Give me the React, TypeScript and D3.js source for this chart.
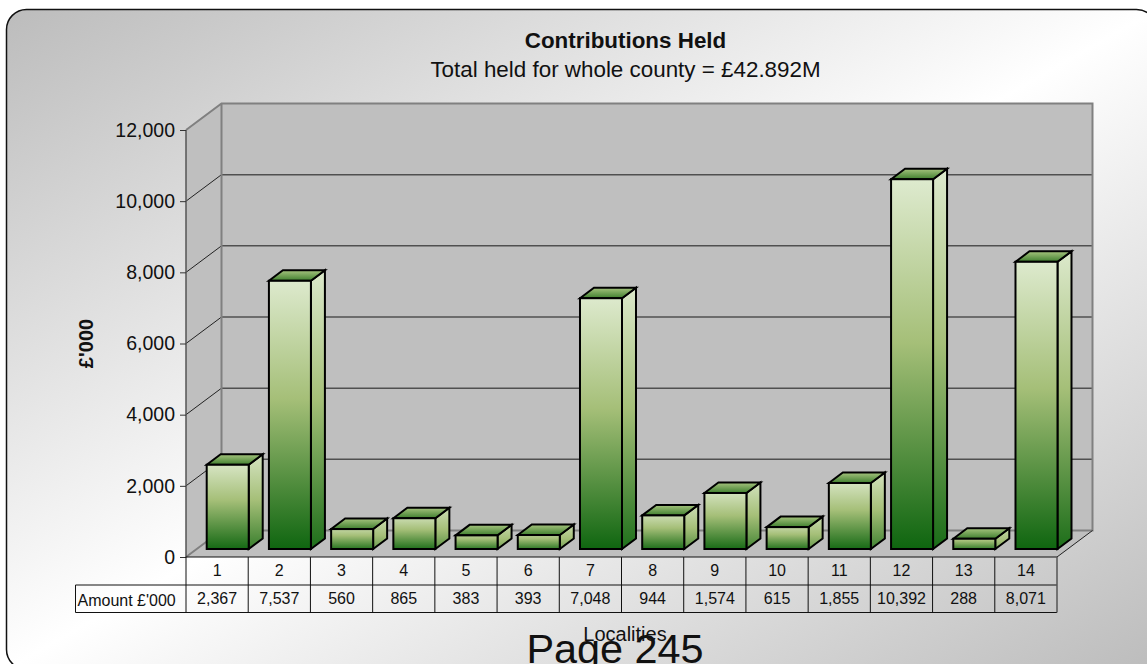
import React, { useEffect, useRef } from 'react';
import * as d3 from 'd3';

const localities = ['1', '2', '3', '4', '5', '6', '7', '8', '9', '10', '11', '12', '13', '14'];
const amounts = [2367, 7537, 560, 865, 383, 393, 7048, 944, 1574, 615, 1855, 10392, 288, 8071];
const yTicks = [0, 2000, 4000, 6000, 8000, 10000, 12000];
const titleText = 'Contributions Held';
const subtitleText = 'Total held for whole county = £42.892M';
const rowLabel = "Amount £'000";
const yLabel = "£'000";
const xLabel = 'Localities';
const pageLabel = 'Page 245';

const FONT = '"Liberation Sans", Arial, sans-serif';

const App = () => {
  const svgRef = useRef<SVGSVGElement>(null);

  useEffect(() => {
    const svg = d3.select(svgRef.current);
    svg.selectAll('*').remove();

    const left = 186, right = 1057, bottom = 557, top = 130;
    const depthX = 35.5, depthY = 26.5;
    const rowH = 28;

    const x = d3.scaleBand().domain(localities).range([left, right]).paddingInner(0).paddingOuter(0);
    const y = d3.scaleLinear().domain([0, 12000]).range([bottom, top]);

    const barW = 42, barDX = 14, barDY = 10.5, shiftX = 10.6, shiftY = 8;

    const defs = svg.append('defs');

    const bg = defs.append('linearGradient').attr('id', 'bg')
      .attr('x1', 0).attr('y1', 0).attr('x2', 1).attr('y2', 1);
    bg.append('stop').attr('offset', 0).attr('stop-color', '#bcbcbc');
    bg.append('stop').attr('offset', 0.5).attr('stop-color', '#ffffff');
    bg.append('stop').attr('offset', 1).attr('stop-color', '#bcbcbc');

    const topFace = defs.append('linearGradient').attr('id', 'topFace')
      .attr('x1', 0).attr('y1', 0).attr('x2', 0).attr('y2', 1);
    topFace.append('stop').attr('offset', 0).attr('stop-color', '#a6c47e');
    topFace.append('stop').attr('offset', 1).attr('stop-color', '#3f7f2e');

    const barStops = (g: any) => {
      g.append('stop').attr('offset', 0).attr('stop-color', '#e0ecd2');
      g.append('stop').attr('offset', 0.45).attr('stop-color', '#a5bf78');
      g.append('stop').attr('offset', 1).attr('stop-color', '#0c640e');
    };

    amounts.forEach((v, i) => {
      const front = defs.append('linearGradient').attr('id', `front${i}`)
        .attr('gradientUnits', 'userSpaceOnUse')
        .attr('x1', 0).attr('x2', 0)
        .attr('y1', y(v) - shiftY - 7)
        .attr('y2', bottom - shiftY + 3);
      barStops(front);
      const side = defs.append('linearGradient').attr('id', `side${i}`)
        .attr('gradientUnits', 'userSpaceOnUse')
        .attr('x1', 0).attr('x2', 0)
        .attr('y1', y(v) - shiftY - 2 * barDY)
        .attr('y2', bottom + 12);
      barStops(side);
    });

    // panel
    svg.append('rect')
      .attr('x', 6.5).attr('y', 9.5)
      .attr('width', 1150).attr('height', 660)
      .attr('rx', 20).attr('ry', 20)
      .attr('fill', 'url(#bg)')
      .attr('stroke', '#111').attr('stroke-width', 1.5);

    // walls and floor
    const wall = '#bfbfbf';
    const poly = (pts: number[][]) => pts.map(p => p.join(',')).join(' ');
    svg.append('polygon')
      .attr('points', poly([[left, bottom], [left + depthX, bottom - depthY], [right + depthX, bottom - depthY], [right, bottom]]))
      .attr('fill', wall);
    svg.append('polygon')
      .attr('points', poly([[left, top], [left + depthX, top - depthY], [left + depthX, bottom - depthY], [left, bottom]]))
      .attr('fill', wall);
    svg.append('rect')
      .attr('x', left + depthX).attr('y', top - depthY)
      .attr('width', right - left).attr('height', bottom - top)
      .attr('fill', wall);

    // gridlines
    const gridY = yTicks.filter(t => t > 0 && t < 12000);
    svg.selectAll('.grid').data(gridY).join('line')
      .attr('x1', left + depthX).attr('x2', right + depthX)
      .attr('y1', d => y(d) - depthY).attr('y2', d => y(d) - depthY)
      .attr('stroke', '#505050').attr('stroke-width', 1.5);
    svg.selectAll('.diag').data(gridY).join('line')
      .attr('x1', left).attr('x2', left + depthX)
      .attr('y1', d => y(d)).attr('y2', d => y(d) - depthY)
      .attr('stroke', '#222').attr('stroke-width', 1);

    // wall outline
    svg.append('path')
      .attr('d', `M${left},${top}L${left + depthX},${top - depthY}H${right + depthX}V${bottom - depthY}H${left + depthX}V${top - depthY}M${left + depthX},${bottom - depthY}L${left},${bottom}`)
      .attr('fill', 'none').attr('stroke', '#808080').attr('stroke-width', 2);
    svg.append('line')
      .attr('x1', right).attr('y1', bottom).attr('x2', right + depthX).attr('y2', bottom - depthY)
      .attr('stroke', '#222').attr('stroke-width', 1);
    svg.append('line')
      .attr('x1', left).attr('y1', top).attr('x2', left).attr('y2', bottom)
      .attr('stroke', '#555').attr('stroke-width', 1.5);

    // y axis
    const yAxis = svg.append('g')
      .attr('transform', `translate(${left},0)`)
      .call(d3.axisLeft(y).tickValues(yTicks).tickSize(6).tickPadding(5).tickFormat(d3.format(',')));
    yAxis.select('.domain').remove();
    yAxis.selectAll('.tick line').attr('stroke', '#333');
    yAxis.selectAll('.tick text')
      .attr('font-family', FONT).attr('font-size', 19.5).attr('fill', '#111');

    // bars
    const bars = svg.selectAll('.bar').data(amounts).join('g');
    const bx = (i: number) => x(localities[i])! + (x.bandwidth() - barW) / 2 + shiftX;
    const by0 = bottom - shiftY;
    const byT = (v: number) => y(v) - shiftY;

    bars.append('polygon')
      .attr('points', (d, i) => poly([
        [bx(i) + barW, by0], [bx(i) + barW + barDX, by0 - barDY],
        [bx(i) + barW + barDX, byT(d) - barDY], [bx(i) + barW, byT(d)],
      ]))
      .attr('fill', (d, i) => `url(#side${i})`);
    bars.append('polygon')
      .attr('points', (d, i) => poly([
        [bx(i), byT(d)], [bx(i) + barDX, byT(d) - barDY],
        [bx(i) + barW + barDX, byT(d) - barDY], [bx(i) + barW, byT(d)],
      ]))
      .attr('fill', 'url(#topFace)');
    bars.append('rect')
      .attr('x', (d, i) => bx(i)).attr('y', d => byT(d))
      .attr('width', barW).attr('height', d => by0 - byT(d))
      .attr('fill', (d, i) => `url(#front${i})`);
    bars.selectAll('*')
      .attr('stroke', '#000').attr('stroke-width', 2).attr('stroke-linejoin', 'miter');

    // data table
    const table = svg.append('g').attr('font-family', FONT).attr('font-size', 16).attr('fill', '#111');
    const rowLeft = 75.5;
    const tableBottom = bottom + 2 * rowH - 0.5;
    table.append('path')
      .attr('d', `M${left},${bottom}H${right}M${rowLeft},${bottom + rowH}H${right}M${rowLeft},${tableBottom}H${right}M${rowLeft},${bottom + rowH}V${tableBottom}`)
      .attr('fill', 'none').attr('stroke', '#111').attr('stroke-width', 1);
    table.selectAll('.sep').data(localities).join('line')
      .attr('x1', d => x(d)!).attr('x2', d => x(d)!)
      .attr('y1', bottom).attr('y2', tableBottom)
      .attr('stroke', '#111');
    table.append('line')
      .attr('x1', right).attr('x2', right).attr('y1', bottom).attr('y2', tableBottom)
      .attr('stroke', '#555').attr('stroke-width', 1.5);
    table.selectAll('.cat').data(localities).join('text')
      .attr('x', d => x(d)! + x.bandwidth() / 2).attr('y', bottom + 18.5)
      .attr('text-anchor', 'middle').text(d => d);
    table.selectAll('.val').data(amounts).join('text')
      .attr('x', (d, i) => x(localities[i])! + x.bandwidth() / 2).attr('y', bottom + 47)
      .attr('text-anchor', 'middle').text(d => d3.format(',')(d));
    table.append('text')
      .attr('x', rowLeft + 2).attr('y', bottom + 48.5).text(rowLabel);

    // titles
    svg.append('text')
      .attr('x', 625.5).attr('y', 48).attr('text-anchor', 'middle')
      .attr('font-family', FONT).attr('font-size', 22.4).attr('font-weight', 'bold').attr('fill', '#111')
      .text(titleText);
    svg.append('text')
      .attr('x', 625.5).attr('y', 76.5).attr('text-anchor', 'middle')
      .attr('font-family', FONT).attr('font-size', 22.4).attr('fill', '#111')
      .text(subtitleText);
    svg.append('text')
      .attr('transform', 'translate(93,343.5) rotate(-90)').attr('text-anchor', 'middle')
      .attr('font-family', FONT).attr('font-size', 20).attr('font-weight', 'bold').attr('fill', '#111')
      .text(yLabel);
    svg.append('text')
      .attr('x', 625).attr('y', 641).attr('text-anchor', 'middle')
      .attr('font-family', FONT).attr('font-size', 20).attr('fill', '#111')
      .text(xLabel);
    svg.append('text')
      .attr('x', 615).attr('y', 663).attr('text-anchor', 'middle')
      .attr('font-family', FONT).attr('font-size', 41.4).attr('fill', '#111')
      .text(pageLabel);
  }, []);

  return (
    <svg
      ref={svgRef}
      width={1147}
      height={664}
      style={{ position: 'absolute', left: 0, top: 0, display: 'block' }}
    />
  );
};

export default App;
